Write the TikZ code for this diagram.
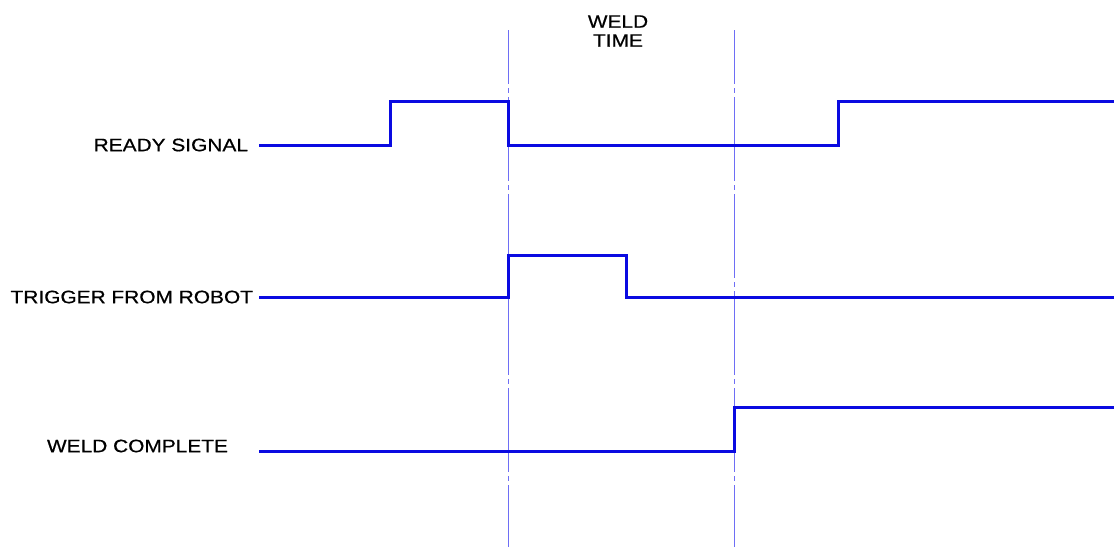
\documentclass[tikz,border=0pt]{standalone}
\usepackage{fontspec}
\newfontfamily\labfont[FakeStretch=1.16,FakeBold=0.6]{Liberation Sans}
\begin{document}
\begin{tikzpicture}[x=1pt,y=-1pt,
  sig/.style={draw={rgb,255:red,10;green,10;blue,225}, line width=3pt},
  guide/.style={draw={rgb,255:red,110;green,110;blue,245}, line width=1pt,
     dash pattern=on 84pt off 4pt on 5pt off 4pt, dash phase=30pt},
  lab/.style={inner sep=0pt, outer sep=0pt, font=\labfont\fontsize{18pt}{20pt}\selectfont, text=black}]
\useasboundingbox (0,0) rectangle (1114,547);
\fill[white] (0,0) rectangle (1114,547);
% guide lines
\coordinate (g1t) at (508,30); \coordinate (g1b) at (508,547);
\coordinate (g2t) at (734,30); \coordinate (g2b) at (734,547);
\draw[guide] (g1t) -- (g1b);
\draw[guide] (g2t) -- (g2b);
% title
\node[lab, align=center] (wt) at (618,31) {WELD\\[-1pt]TIME};
% labels
\node[lab, anchor=east] (rs) at (248,145) {READY SIGNAL};
\node[lab, anchor=east] (tr) at (253,297) {TRIGGER FROM ROBOT};
\node[lab, anchor=west] (wc) at (47,446) {WELD COMPLETE};
% signals
\coordinate (rs0) at (259,145);
\coordinate (tr0) at (259,297);
\coordinate (wc0) at (259,451);
\draw[sig] (rs0) -- (390,145) -- (390,101) -- (508,101) -- (508,145) -- (838,145) -- (838,101) -- (1116,101);
\draw[sig] (tr0) -- (508,297) -- (508,255) -- (626,255) -- (626,297) -- (1116,297);
\draw[sig] (wc0) -- (734,451) -- (734,407) -- (1116,407);
\end{tikzpicture}
\end{document}
